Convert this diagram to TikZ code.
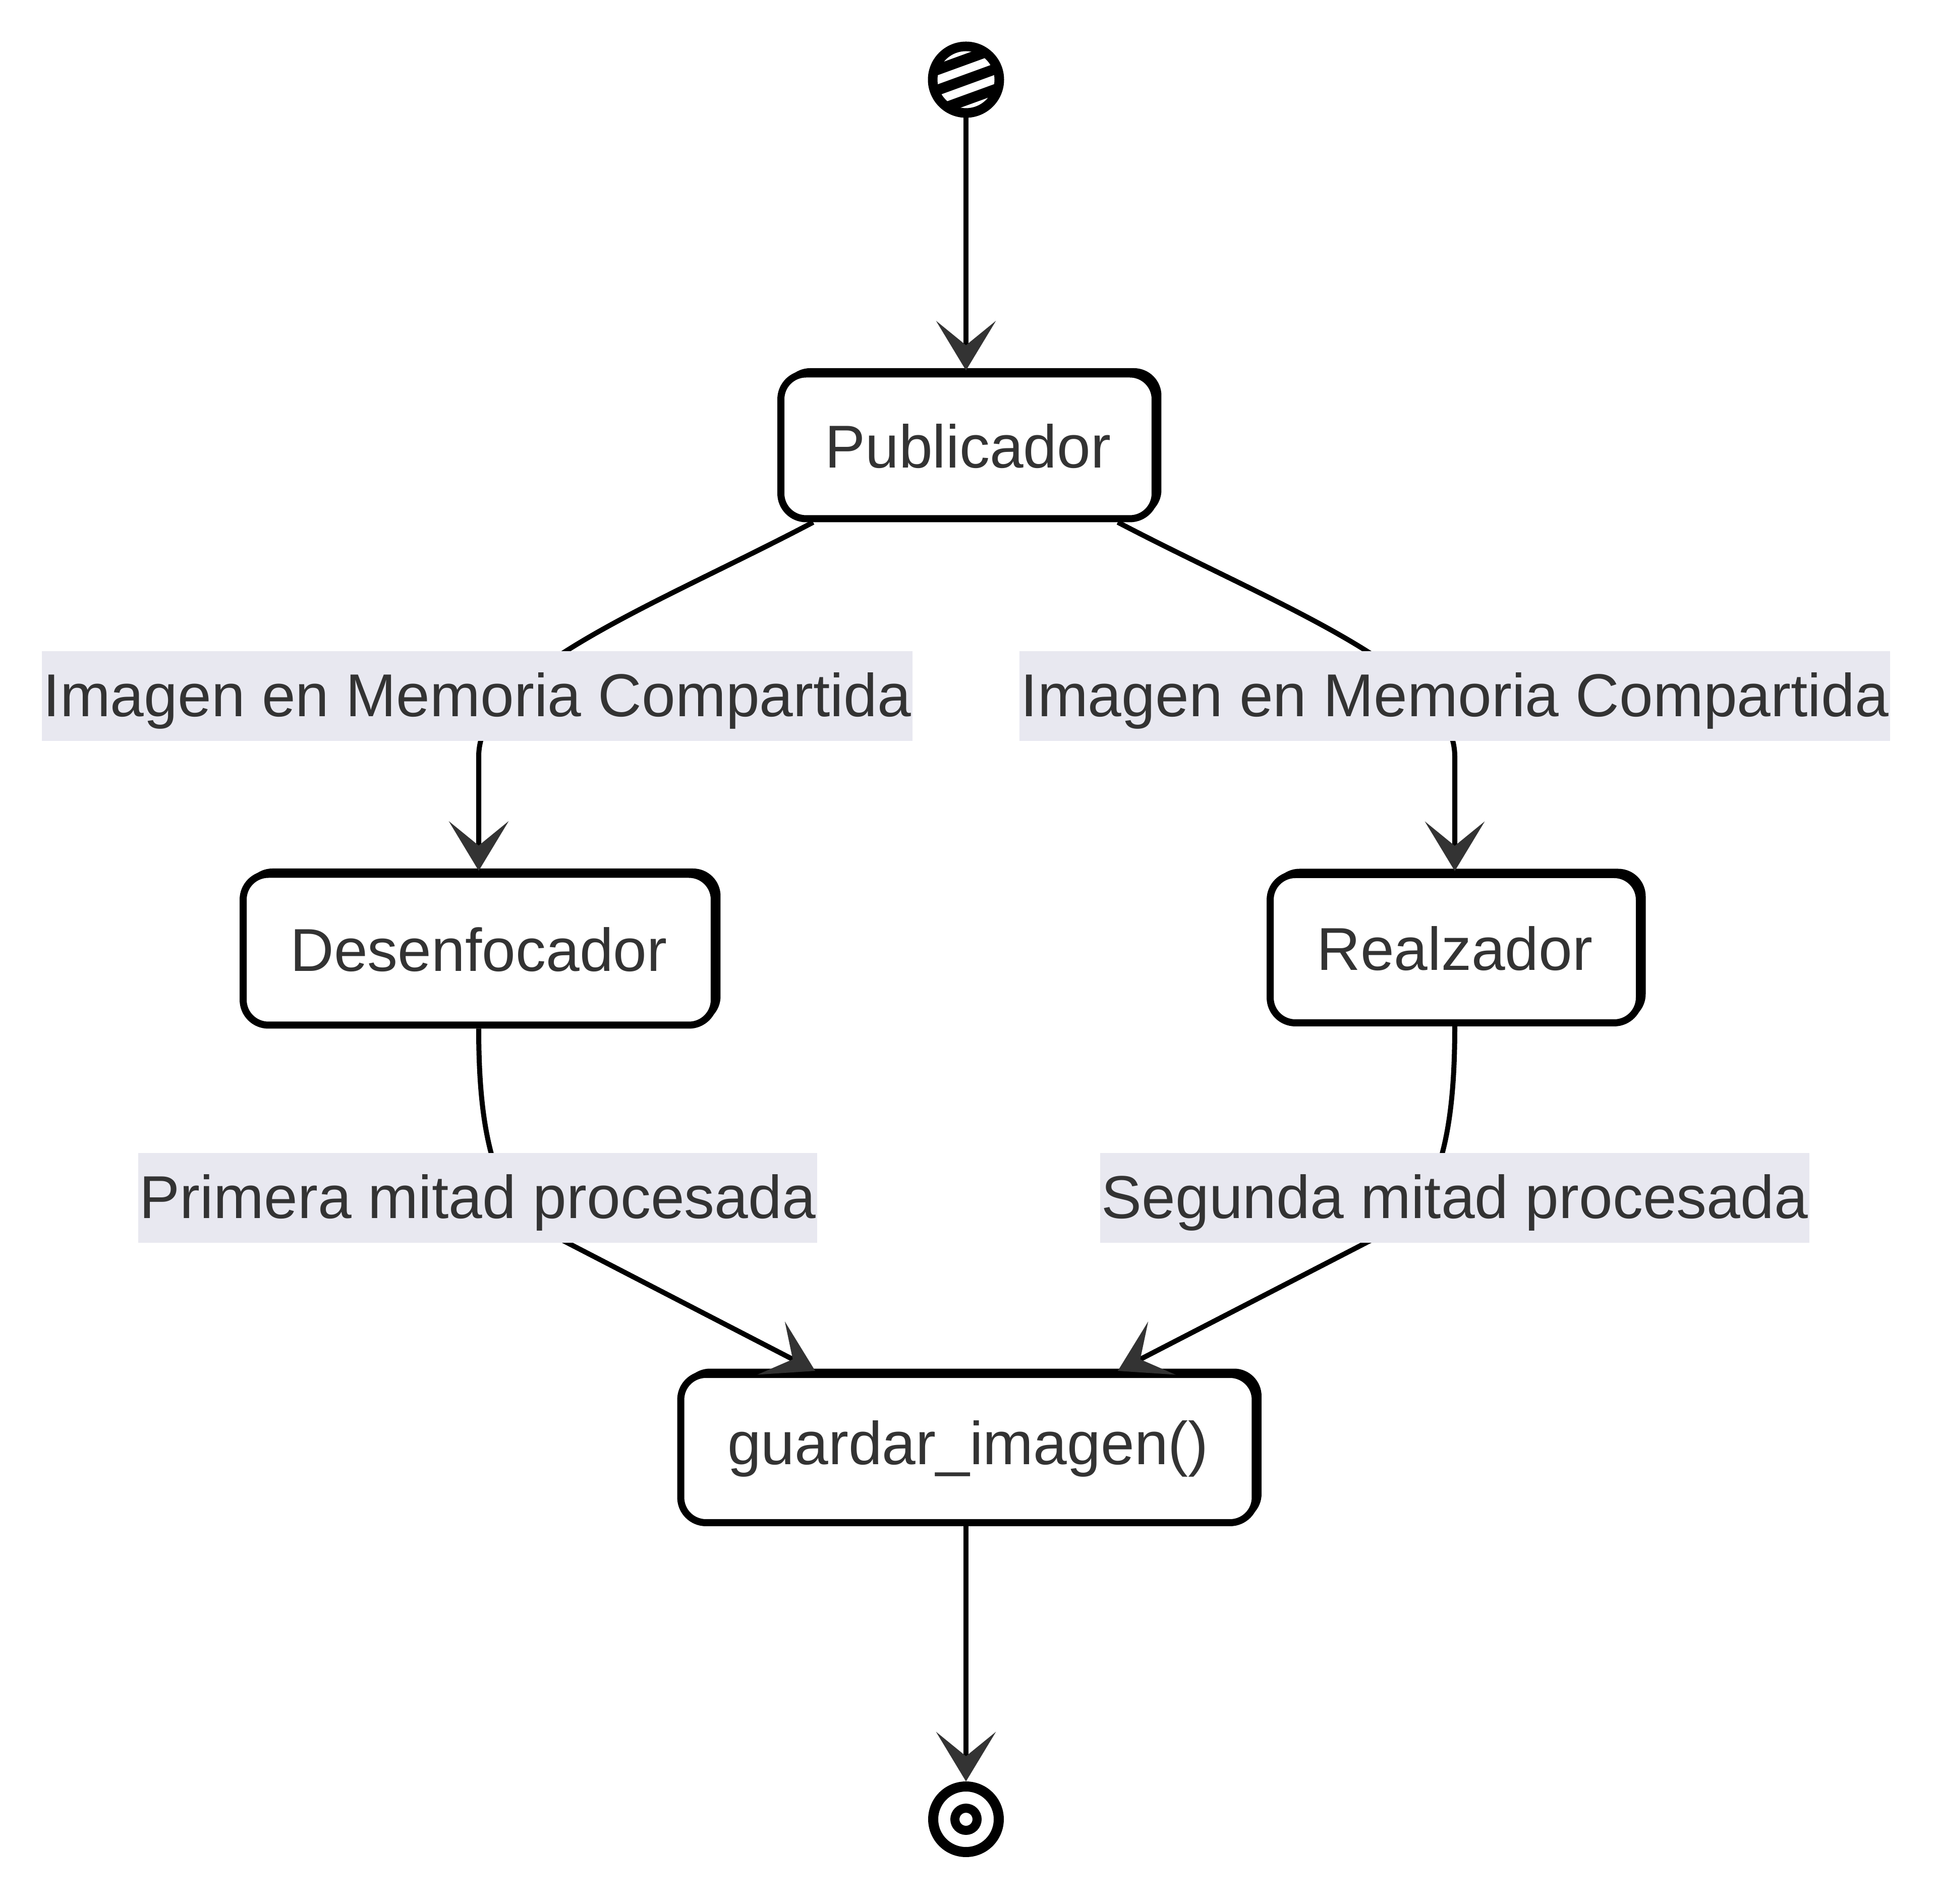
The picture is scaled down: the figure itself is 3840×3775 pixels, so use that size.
\documentclass[tikz,border=0pt]{standalone}
\usepackage{fontspec}
\setmainfont{Liberation Sans}
\usetikzlibrary{arrows.meta,calc}
\definecolor{txt}{HTML}{333333}
\definecolor{lblbg}{RGB}{232,232,240}
\begin{document}
\begin{tikzpicture}[x=0.1pt,y=-0.1pt,
  box/.style={draw=black, line width=1.4pt, rounded corners=5pt, fill=white, text=txt,
    font=\fontsize{12pt}{14pt}\selectfont, inner sep=0pt,
    preaction={draw=black, line width=0.9pt, rounded corners=5pt, transform canvas={shift={(0.8pt,0.7pt)}}}},
  lbl/.style={fill=lblbg, text=txt, font=\fontsize{12pt}{14pt}\selectfont, inner xsep=0.3pt, inner ysep=0pt,
    text height=10.7pt, text depth=2.5pt, minimum height=17.8pt},
  edge/.style={draw=black, line width=1pt, -{Stealth[length=9.8pt,width=11.8pt,inset=4.8pt,color=txt]}},
  startc/.style={circle, draw=black, line width=1.9pt, minimum size=13.2pt, inner sep=0pt, fill=white,
    path picture={
      \foreach \d in {-3.8,0,3.8} {
        \draw[line width=2.1pt] ($(path picture bounding box.center)+(200:9pt)+(110:\d pt)$) -- ($(path picture bounding box.center)+(20:9pt)+(110:\d pt)$);
      }
    }},
  endc/.style={circle, draw=black, line width=2pt, minimum size=13pt, inner sep=0pt, fill=white},
  enddot/.style={circle, draw=black, line width=1.8pt, minimum size=4.4pt, inner sep=0pt, fill=white},
]
\useasboundingbox (0,0) rectangle (3840,3775);

% nodes
\node[startc] (ini) at (1915,158) {};
\node[box, minimum width=74.2pt, minimum height=28.7pt] (pub) at (1919,885) {Publicador};
\node[box, minimum width=93.4pt, minimum height=29.9pt] (des) at (949,1883) {Desenfocador};
\node[box, minimum width=73.2pt, minimum height=29.4pt] (rea) at (2884,1881) {Realzador};
\node[box, minimum width=113.9pt, minimum height=29.4pt] (gua) at (1919,2872) {guardar\_imagen()};
\node[endc] (fin) at (1915,3607) {};
\node[enddot] (findot) at (fin.center) {};

% edges
\draw[edge] (ini.south) -- (ini.south |- pub.north);
\draw[edge] ([xshift=-30.7pt]pub.south) .. controls (1300,1200) and (949,1330) .. (949,1500) -- (des.north);
\draw[edge] ([xshift=29.7pt]pub.south) .. controls (2530,1200) and (2884,1330) .. (2884,1500) -- (rea.north);
\draw[edge] (des.south) .. controls (949,2230) and (975,2330) .. (1030,2415) -- ([xshift=-30.3pt]gua.north);
\draw[edge] (rea.south) .. controls (2884,2230) and (2858,2330) .. (2803,2415) -- ([xshift=29.7pt]gua.north);
\draw[edge] (gua.south -| fin.north) -- (fin.north);

% labels
\node[lbl] (l1) at (946,1380) {Imagen en Memoria Compartida};
\node[lbl] (l2) at (2884,1380) {Imagen en Memoria Compartida};
\node[lbl] (l3) at (947,2375) {Primera mitad procesada};
\node[lbl] (l4) at (2884,2375) {Segunda mitad procesada};
\end{tikzpicture}
\end{document}
